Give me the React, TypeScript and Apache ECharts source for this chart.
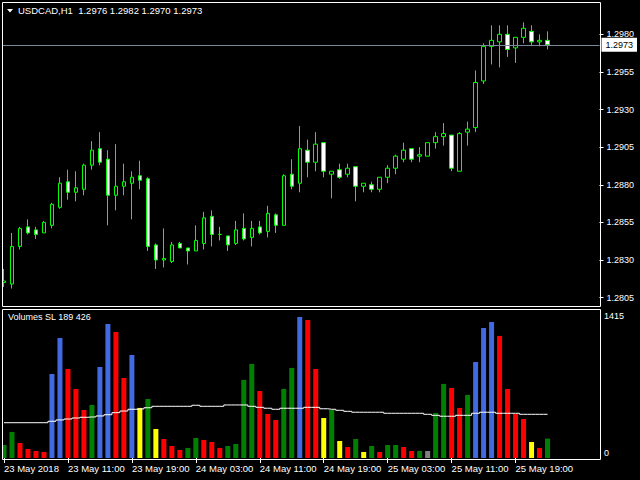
import { useEffect, useRef } from "react";
import * as echarts from "echarts";

const symbolName = "USDCAD,H1";
const indicatorName = "Volumes SL";

const opens = [
  1.2815, 1.2814, 1.2839, 1.2852, 1.2850, 1.2848, 1.2853, 1.2865, 1.2882, 1.2875,
  1.2877, 1.2893, 1.2904, 1.2897, 1.2873, 1.2879, 1.2881, 1.2886, 1.2884, 1.2840,
  1.2830, 1.2829, 1.2841, 1.2838, 1.2836, 1.2841, 1.2859, 1.2847, 1.2846, 1.2841,
  1.2851, 1.2845, 1.2852, 1.2849, 1.2860, 1.2853, 1.2887, 1.2881, 1.2903, 1.2895,
  1.2908, 1.2887, 1.2890, 1.2887, 1.2892, 1.2879, 1.2880, 1.2877, 1.2885, 1.2891,
  1.2897, 1.2904, 1.2899, 1.2899, 1.2908, 1.2912, 1.2913, 1.2889, 1.2915, 1.2918,
  1.2949, 1.2972, 1.2975, 1.2980, 1.2971, 1.2978, 1.2982, 1.2975, 1.2976,
];
const closes = [
  1.2816, 1.2839, 1.2851, 1.2848, 1.2847, 1.2855, 1.2867, 1.2881, 1.2875, 1.2878,
  1.2893, 1.2903, 1.2895, 1.2873, 1.2879, 1.2882, 1.2885, 1.2883, 1.2839, 1.2830,
  1.2831, 1.2840, 1.2838, 1.2836, 1.2843, 1.2858, 1.2847, 1.2847, 1.2840, 1.2850,
  1.2844, 1.2851, 1.2848, 1.2861, 1.2853, 1.2886, 1.2879, 1.2904, 1.2895, 1.2907,
  1.2889, 1.2889, 1.2885, 1.2891, 1.2879, 1.2881, 1.2877, 1.2885, 1.2891, 1.2899,
  1.2903, 1.2897, 1.2900, 1.2908, 1.2912, 1.2914, 1.2891, 1.2914, 1.2917, 1.2948,
  1.2972, 1.2976, 1.2980, 1.2970, 1.2978, 1.2984, 1.2975, 1.2976, 1.2973,
];
const lows = [
  1.2812, 1.2811, 1.2837, 1.2847, 1.2844, 1.2848, 1.2851, 1.2864, 1.2870, 1.2869,
  1.2873, 1.2890, 1.2893, 1.2853, 1.2863, 1.2873, 1.2857, 1.2877, 1.2836, 1.2824,
  1.2825, 1.2828, 1.2838, 1.2827, 1.2836, 1.2837, 1.2839, 1.2843, 1.2836, 1.2840,
  1.2843, 1.2839, 1.2847, 1.2845, 1.2848, 1.2853, 1.2877, 1.2875, 1.2885, 1.2889,
  1.2885, 1.2871, 1.2884, 1.2885, 1.2869, 1.2875, 1.2875, 1.2875, 1.2881, 1.2887,
  1.2895, 1.2895, 1.2895, 1.2899, 1.2904, 1.2906, 1.2889, 1.2889, 1.2906, 1.2915,
  1.2947, 1.2960, 1.2958, 1.2965, 1.2961, 1.2974, 1.2973, 1.2972, 1.2970,
];
const highs = [
  1.2824, 1.2848, 1.2852, 1.2857, 1.2852, 1.2856, 1.2868, 1.2885, 1.2890, 1.2889,
  1.2894, 1.2909, 1.2915, 1.2903, 1.2907, 1.2894, 1.2889, 1.2896, 1.2885, 1.2841,
  1.2851, 1.2842, 1.2842, 1.2838, 1.2853, 1.2862, 1.2863, 1.2852, 1.2846, 1.2856,
  1.2861, 1.2856, 1.2856, 1.2866, 1.2861, 1.2887, 1.2897, 1.2919, 1.2910, 1.2915,
  1.2908, 1.2889, 1.2894, 1.2894, 1.2892, 1.2881, 1.2882, 1.2885, 1.2893, 1.2900,
  1.2908, 1.2904, 1.2905, 1.2908, 1.2915, 1.2921, 1.2913, 1.2915, 1.2922, 1.2956,
  1.2974, 1.2986, 1.2986, 1.2986, 1.2978, 1.2988, 1.2986, 1.2980, 1.2982,
];

const volumes = [
  127, 254, 146, 88, 68, 59, 819, 1170, 868, 673,
  468, 517, 887, 1307, 1229, 780, 1004, 488, 575, 283,
  185, 117, 78, 98, 195, 176, 156, 98, 117, 137,
  761, 917, 653, 429, 371, 673, 878, 1375, 1346, 868,
  390, 468, 166, 107, 185, 59, 117, 59, 127, 127,
  107, 68, 68, 68, 439, 722, 683, 488, 614, 936,
  1268, 1326, 1190, 673, 429, 380, 156, 98, 189,
];
const volumeKinds = [
  "G", "G", "R", "R", "R", "R", "B", "B", "R", "R",
  "R", "G", "B", "B", "R", "R", "B", "Y", "G", "Y",
  "R", "R", "R", "G", "G", "R", "R", "R", "G", "G",
  "G", "G", "R", "R", "R", "G", "G", "B", "R", "R",
  "Y", "G", "Y", "R", "G", "Y", "G", "R", "G", "G",
  "R", "R", "G", "N", "G", "G", "R", "R", "G", "B",
  "B", "B", "R", "R", "R", "R", "Y", "R", "G",
];
const volumeMA = [
  344, 344, 344, 344, 344, 344, 358, 371, 380, 390,
  397, 400, 410, 422, 442, 458, 475, 478, 490, 504,
  504, 504, 504, 504, 514, 504, 504, 504, 517, 517,
  517, 504, 494, 485, 475, 485, 485, 485, 494, 494,
  480, 475, 465, 455, 446, 446, 446, 446, 436, 436,
  436, 436, 436, 426, 416, 407, 407, 416, 416, 436,
  446, 446, 436, 436, 436, 426, 426, 426, 426,
];

const priceTicks = [1.2805, 1.283, 1.2855, 1.288, 1.2905, 1.293, 1.2955, 1.298];
const timeLabels = [
  "23 May 2018", "23 May 11:00", "23 May 19:00", "24 May 03:00", "24 May 11:00",
  "24 May 19:00", "25 May 03:00", "25 May 11:00", "25 May 19:00",
];
const volumeScaleLabels = ["1415", "0"];

const kindColors: Record<string, string> = {
  G: "#008000",
  R: "#ff0000",
  B: "#4169e1",
  Y: "#ffff00",
  N: "#808080",
};

const FONT = '"Liberation Sans", Arial, sans-serif';

export default function App() {
  const ref = useRef<HTMLDivElement>(null);

  useEffect(() => {
    if (!ref.current) return;
    const chart = echarts.init(ref.current, null, { renderer: "svg" });
    const slots = 75;
    const cats = Array.from({ length: slots }, (_, i) => String(i));
    const last = opens.length - 1;
    const showTick = (i: number) => i % 8 === 0 && i / 8 < timeLabels.length;

    const option: any = {
      animation: false,
      backgroundColor: "#000000",
      grid: [
        { left: -0.5, top: 2, width: 600, height: 304 },
        { left: -0.5, top: 311, width: 600, height: 147 },
      ],
      xAxis: [
        {
          gridIndex: 0,
          type: "category",
          data: cats,
          show: false,
        },
        {
          gridIndex: 1,
          type: "category",
          data: cats,
          axisLine: { show: false },
          axisTick: {
            show: true,
            alignWithLabel: true,
            interval: (i: number) => showTick(i),
            length: 5,
            lineStyle: { color: "#ffffff" },
          },
          axisLabel: {
            show: true,
            interval: (i: number) => showTick(i),
            formatter: (_v: string, i: number) => timeLabels[i / 8] ?? "",
            align: "left",
            color: "#ffffff",
            fontSize: 9.5,
            fontFamily: FONT,
            margin: 5,
          },
          splitLine: { show: false },
        },
      ],
      yAxis: [
        {
          gridIndex: 0,
          type: "value",
          position: "right",
          min: 1.27994,
          max: 1.30015,
          axisLine: { show: false },
          splitLine: { show: false },
          axisTick: {
            show: true,
            length: 4,
            lineStyle: { color: "#ffffff" },
            customValues: priceTicks,
          },
          axisLabel: {
            color: "#ffffff",
            fontSize: 9,
            fontFamily: FONT,
            margin: 7,
            customValues: priceTicks,
            formatter: (v: number) => v.toFixed(4),
          },
        },
        {
          gridIndex: 1,
          type: "value",
          min: 0,
          max: 1433,
          show: false,
          splitLine: { show: false },
        },
      ],
      series: [
        {
          type: "line",
          xAxisIndex: 0,
          yAxisIndex: 0,
          symbol: "none",
          data: [],
          z: 1,
          markLine: {
            silent: true,
            precision: 5,
            symbol: ["none", "none"],
            lineStyle: { color: "#778899", width: 1, type: "solid" },
            label: {
              show: true,
              position: "end",
              formatter: () => closes[last].toFixed(4),
              backgroundColor: "#ffffff",
              color: "#000000",
              fontSize: 9,
              fontFamily: FONT,
              lineHeight: 10,
              padding: [2, 4, 2, 4],
              distance: 2,
            },
            data: [{ yAxis: closes[last] }],
          },
        },
        {
          type: "candlestick",
          xAxisIndex: 0,
          yAxisIndex: 0,
          barWidth: 4,
          z: 3,
          data: opens.map((o, i) => [o, closes[i], lows[i], highs[i]]),
          itemStyle: {
            color: "#000000",
            color0: "#ffffff",
            borderColor: "#00ff00",
            borderColor0: "#00ff00",
            borderColorDoji: "#00ff00",
            borderWidth: 1,
          },
        },
        {
          type: "bar",
          xAxisIndex: 1,
          yAxisIndex: 1,
          barWidth: 5,
          data: volumes.map((v, i) => ({
            value: v,
            itemStyle: { color: kindColors[volumeKinds[i]] },
          })),
        },
        {
          type: "line",
          xAxisIndex: 1,
          yAxisIndex: 1,
          step: "middle",
          symbol: "none",
          lineStyle: { color: "#ffffff", width: 1 },
          data: volumeMA,
        },
      ],
      graphic: [
        {
          type: "rect",
          z: 90,
          shape: { x: 0, y: 0, width: 2, height: 480 },
          style: { fill: "#000000" },
        },
        {
          type: "rect",
          z: 100,
          shape: { x: 2.5, y: 2.5, width: 598, height: 304 },
          style: { fill: "none", stroke: "#ffffff", lineWidth: 1 },
        },
        {
          type: "rect",
          z: 100,
          shape: { x: 2.5, y: 309.5, width: 598, height: 150 },
          style: { fill: "none", stroke: "#ffffff", lineWidth: 1 },
        },
        {
          type: "polygon",
          z: 100,
          shape: { points: [[7, 9], [13, 9], [10, 12.5]] },
          style: { fill: "#ffffff" },
        },
        {
          type: "text",
          z: 100,
          x: 18,
          y: 10.5,
          style: {
            text: `${symbolName}  ${opens[last].toFixed(4)} ${highs[last].toFixed(4)} ${lows[last].toFixed(4)} ${closes[last].toFixed(4)}`,
            fill: "#ffffff",
            fontSize: 9.5,
            fontFamily: FONT,
            align: "left",
            verticalAlign: "middle",
          },
        },
        {
          type: "text",
          z: 100,
          x: 8,
          y: 317,
          style: {
            text: `${indicatorName} ${volumes[last]} ${volumeMA[last]}`,
            fill: "#ffffff",
            fontSize: 9,
            fontFamily: FONT,
            align: "left",
            verticalAlign: "middle",
          },
        },
        {
          type: "text",
          z: 100,
          x: 604,
          y: 315.7,
          style: {
            text: volumeScaleLabels[0],
            fill: "#ffffff",
            fontSize: 9,
            fontFamily: FONT,
            align: "left",
            verticalAlign: "middle",
          },
        },
        {
          type: "text",
          z: 100,
          x: 604,
          y: 452.7,
          style: {
            text: volumeScaleLabels[1],
            fill: "#ffffff",
            fontSize: 9,
            fontFamily: FONT,
            align: "left",
            verticalAlign: "middle",
          },
        },
      ],
    };

    chart.setOption(option);
    return () => chart.dispose();
  }, []);

  return (
    <div
      ref={ref}
      style={{
        position: "fixed",
        left: 0,
        top: 0,
        width: 640,
        height: 480,
        background: "#000000",
      }}
    />
  );
}
